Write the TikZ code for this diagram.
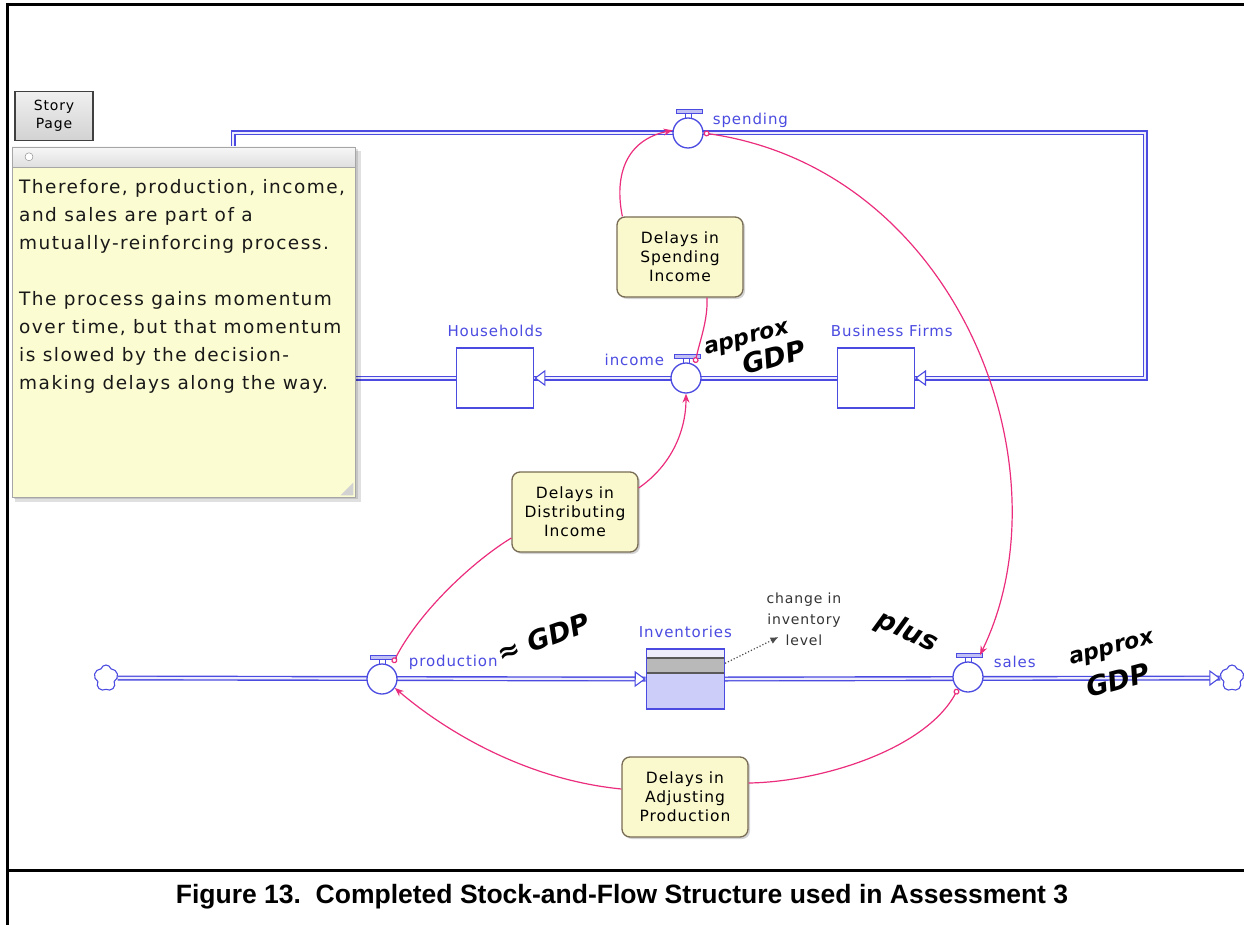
\documentclass[tikz,border=0pt]{standalone}
\usepackage{fontspec}
\setmainfont{DejaVu Sans}
\newfontfamily\genevafont[LetterSpace=6]{DejaVu Sans}
\newfontfamily\notefont[LetterSpace=8]{DejaVu Sans}
\newfontfamily\capfont{Liberation Sans}
\usetikzlibrary{shapes.symbols, arrows.meta, positioning, decorations.markings, shadows}
\pgfdeclarelayer{background}
\pgfsetlayers{background,main}

\definecolor{flowblue}{RGB}{75,75,225}
\definecolor{linkpink}{RGB}{235,45,125}
\definecolor{notefill}{RGB}{252,252,210}
\definecolor{delayfill}{RGB}{250,248,205}
\definecolor{delayedge}{RGB}{120,108,85}
\definecolor{invfill}{RGB}{205,205,250}

\tikzstyle{pipe} = [draw=flowblue, line width=1.4pt, double=flowblue!10, double distance=2.2pt]
\tikzstyle{pipeend} = [postaction={decorate, decoration={markings,
                  mark=at position 1 with {\arrow[flowblue]{Triangle[fill=white, length=11pt, width=16pt, line width=1.1pt]}}}}]
\tikzstyle{stock} = [rectangle, draw=flowblue, line width=1.4pt, fill=white,
                  minimum width=77pt, minimum height=60pt]
\tikzstyle{inventory} = [stock, fill=invfill, minimum width=78pt,
                  path picture={\fill[flowblue!10] (path picture bounding box.north west) rectangle ([yshift=-9pt]path picture bounding box.north east);
                  \fill[gray!55] ([yshift=-9pt]path picture bounding box.north west) rectangle ([yshift=-24pt]path picture bounding box.north east);
                  \draw[black!65, line width=1.2pt] ([yshift=-9pt]path picture bounding box.north west) -- ([yshift=-9pt]path picture bounding box.north east)
                  ([yshift=-24pt]path picture bounding box.north west) -- ([yshift=-24pt]path picture bounding box.north east);}]
\tikzstyle{valve} = [circle, draw=flowblue, line width=1.3pt, fill=white, minimum size=30pt, inner sep=0pt]
\tikzstyle{source} = [cloud, cloud puffs=5, aspect=1, draw=flowblue, line width=1.1pt, fill=white,
                  minimum width=24pt, minimum height=26pt, inner sep=0pt]
\tikzstyle{flowlabel} = [text=flowblue, font=\genevafont\fontsize{15}{17}\selectfont, inner sep=1pt]
\tikzstyle{delay} = [rectangle, rounded corners=8pt, draw=delayedge, line width=1.3pt, fill=delayfill,
                  minimum width=126pt, minimum height=80pt, align=center,
                  font=\genevafont\fontsize{15.5}{19}\selectfont,
                  drop shadow={shadow xshift=2pt, shadow yshift=-2pt, opacity=0.35}]
\tikzstyle{link} = [draw=linkpink, line width=1.2pt]
\tikzstyle{linkin} = [{Circle[length=6pt, width=6pt, fill=white]}-]
\tikzstyle{linkout} = [-{Stealth[length=9pt, width=7pt]}]
\tikzstyle{linkboth} = [{Circle[length=6pt, width=6pt, fill=white]}-{Stealth[length=9pt, width=7pt]}]
\tikzstyle{hand} = [font=\bfseries\itshape\fontsize{22}{22}\selectfont, inner sep=0pt]
\tikzstyle{handbig} = [font=\bfseries\itshape\fontsize{27}{27}\selectfont, inner sep=0pt]
\tikzstyle{notetext} = [align=left, inner sep=0pt, font=\notefont\fontsize{18.5}{28}\selectfont, text=black!90]
\tikzstyle{smalltext} = [align=center, inner sep=1pt, font=\genevafont\fontsize{14}{21}\selectfont, text=black!80]

% T-shaped handle on top of a valve
\newcommand{\valvecap}[1]{%
  \draw[flowblue, fill=flowblue!35, line width=0.9pt] ([xshift=-12pt,yshift=20pt]#1.center) rectangle ([xshift=14pt,yshift=24pt]#1.center);
  \draw[flowblue, line width=0.9pt] ([xshift=-3pt,yshift=20pt]#1.center) -- ([xshift=-3pt,yshift=14pt]#1.center)
    ([xshift=3pt,yshift=20pt]#1.center) -- ([xshift=3pt,yshift=14pt]#1.center);}

\begin{document}
\begin{tikzpicture}[x=1pt, y=-1pt, align=center]
    \useasboundingbox (0,0) rectangle (1244,925);

    % valves and stocks
    \node [valve] (spend) at (688,133) {};
    \node [valve] (inc) at (686,378) {};
    \node [valve] (prod) at (382,679) {};
    \node [valve] (sale) at (968,677) {};
    \node [stock, left= 136pt of inc] (hh) {};
    \node [stock, right= 135pt of inc] (bf) {};
    \node [inventory, right= 248pt of prod] (inv) {};
    \node [source] (src) at (106,678) {};
    \node [source] (sink) at (1232,678) {};
    \coordinate (topleft) at (233,133);
    \coordinate (topright) at (1145,133);

    \valvecap{spend}
    \valvecap{inc}
    \valvecap{prod}
    \valvecap{sale}

    % pipes
    \begin{pgfonlayer}{background}
        \draw [pipe, pipeend] (bf.west) -- (hh.east);
        \draw [pipe, pipeend] (hh.west) -| (topleft) -- (topright) |- (bf.east);
        \draw [pipe, pipeend] (src) -- (inv.west);
        \draw [pipe, pipeend] (inv.east) -- (sink);
    \end{pgfonlayer}

    % labels
    \node [flowlabel, anchor=west] (spendlbl) at ([xshift=8pt, yshift=13pt]spend.east) {spending};
    \node [flowlabel, anchor=east] (inclbl) at ([xshift=-5pt, yshift=18pt]inc.west) {income};
    \node [flowlabel, anchor=west] (prodlbl) at ([xshift=10pt, yshift=17pt]prod.east) {production};
    \node [flowlabel, anchor=west] (salelbl) at ([xshift=9pt, yshift=15pt]sale.east) {sales};
    \node [flowlabel, above= 9pt of hh] (hhlbl) {Households};
    \node [flowlabel, above= 9pt of bf, xshift=16pt] (bflbl) {Business Firms};
    \node [flowlabel, above= 9pt of inv] (invlbl) {Inventories};

    % delays
    \node [delay] (dsi) at (680,257) {Delays in\\Spending\\Income};
    \node [delay] (ddi) at (575,512) {Delays in\\Distributing\\Income};
    \node [delay] (dap) at (685,797) {Delays in\\Adjusting\\Production};

    % connectors
    \draw [link, linkin] ([xshift=9pt, yshift=15pt]inc.center) .. controls (700,340) and (708,320) .. ([xshift=27pt]dsi.south);
    \draw [link, linkout] ([xshift=6pt]dsi.north west) .. controls (614,175) and (626,140) .. (spend.170);
    \draw [link, linkboth] (spend.east) .. controls (960,170) and (1070,470) .. ([xshift=12pt, yshift=22pt]sale.center);
    \draw [link, linkin] ([xshift=11pt, yshift=16pt]prod.center) .. controls (420,610) and (475,560) .. ([yshift=-26pt]ddi.west);
    \draw [link, linkout] ([yshift=24pt]ddi.east) .. controls (672,465) and (686,430) .. (inc.south);
    \draw [link, linkin] (sale.230) .. controls (925,750) and (820,782) .. ([yshift=14pt]dap.east);
    \draw [link, linkout] ([yshift=8pt]dap.west) .. controls (530,780) and (450,735) .. (prod.-35);

    \node [smalltext] (chg) at (804,619) {change in\\inventory\\level};
    \draw [dotted, line width=1.2pt, black!70, -{Latex[length=8pt, width=7pt]}] ([yshift=-15pt]inv.north east) -- ([xshift=13pt, yshift=-18pt]chg.west);

    % handwriting
    \node [hand, rotate=15] (incapprox) at (747,340) {approx};
    \node [handbig, rotate=15] (incgdp) at (774,357) {GDP};
    \node [handbig, rotate=-25] (plus) at (907,632) {plus};
    \node [handbig, rotate=20] (prodgdp) at (543,638) {≈ GDP};
    \node [hand, rotate=15] (saleapprox) at (1112,650) {approx};
    \node [handbig, rotate=15] (salegdp) at (1118,680) {GDP};

    % story note
    \fill [black, opacity=0.12] (15,151) rectangle (361,502);
    \fill [black, opacity=0.12] (14,149) rectangle (358,499);
    \node [draw=gray!70, fill=notefill, minimum width=343pt, minimum height=330pt, anchor=north west, inner sep=0pt] (note) at (12,167) {};
    \node [draw=gray!70, top color=gray!6, bottom color=gray!25, minimum width=343pt, minimum height=20pt, anchor=south west, inner sep=0pt] (notebar) at (note.north west) {};
    \draw [gray, fill=white] ([xshift=17pt]notebar.west) circle (4pt);
    \fill [gray!35] ([xshift=-15pt, yshift=2pt]note.south east) -- ([xshift=-2pt, yshift=15pt]note.south east) -- ([xshift=-2pt, yshift=2pt]note.south east) -- cycle;
    \node [notetext, anchor=north west] (notetxt) at ([xshift=7pt, yshift=-12pt]note.north west)
        {Therefore, production, income,\\and sales are part of a\\mutually-reinforcing process.\\[28pt]The process gains momentum\\over time, but that momentum\\is slowed by the decision-\\making delays along the way.};
    \node [rectangle, draw=black!75, line width=1.3pt, top color=gray!12, bottom color=gray!35,
           minimum width=78pt, minimum height=49pt, font=\genevafont\fontsize{14}{18}\selectfont] (story) at (54,116) {Story\\Page};

    % frame and caption
    \draw [line width=3pt] (7,925) -- (7,5) -- (1244,5);
    \draw [line width=3pt] (7,870) -- (1244,870);
    \node [font=\capfont\bfseries\fontsize{26.5}{26.5}\selectfont] (caption) at (622,897)
        {Figure 13.\ \ Completed Stock-and-Flow Structure used in Assessment 3};
\end{tikzpicture}
\end{document}
